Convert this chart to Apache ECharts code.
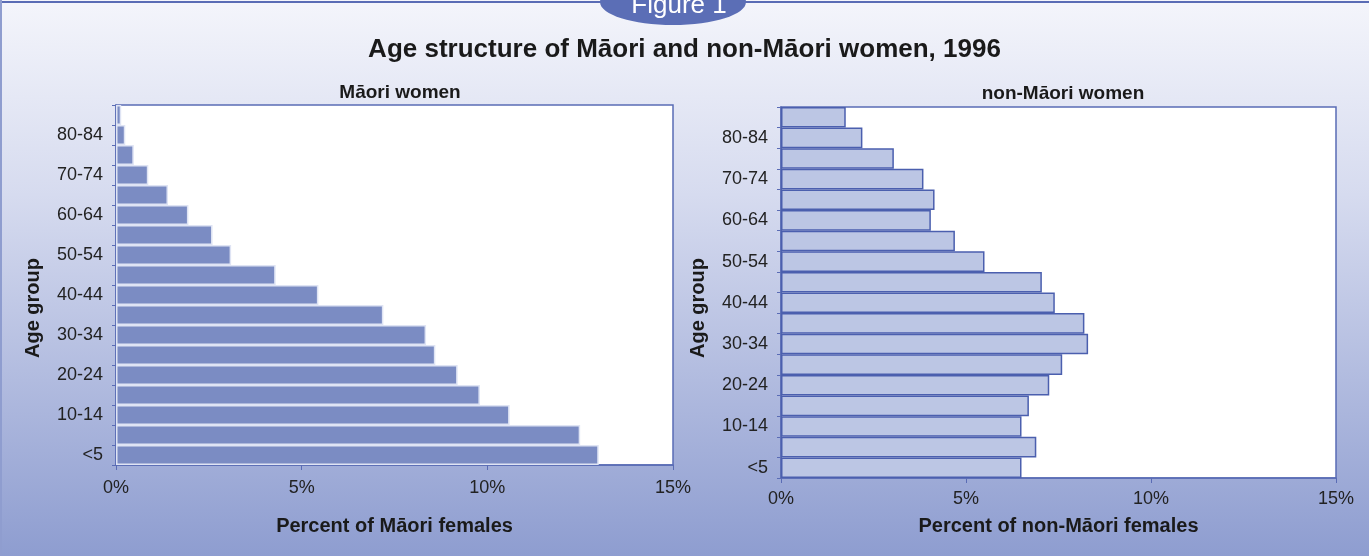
<!DOCTYPE html>
<html>
<head>
<meta charset="utf-8">
<script src="https://cdn.jsdelivr.net/npm/echarts@6/dist/echarts.min.js"></script>
<style>
  html, body { margin: 0; padding: 0; }
  #chart { width: 1369px; height: 556px; }
</style>
</head>
<body>
<div id="chart"></div>
<script>
// age groups, bottom to top
var ageGroups = ['<5', '5-9', '10-14', '15-19', '20-24', '25-29', '30-34', '35-39', '40-44',
  '45-49', '50-54', '55-59', '60-64', '65-69', '70-74', '75-79', '80-84', '85+']
// percent of females in each age group
var maoriPct = [13.0, 12.5, 10.6, 9.8, 9.2, 8.6, 8.35, 7.2, 5.45, 4.3, 3.1, 2.6, 1.95, 1.4, 0.87, 0.48, 0.25, 0.14]
var nonMaoriPct = [6.5, 6.9, 6.5, 6.7, 7.25, 7.6, 8.3, 8.2, 7.4, 7.05, 5.5, 4.7, 4.05, 4.15, 3.85, 3.05, 2.2, 1.75]
var xTicks = [0, 5, 10, 15]

var font = 'Liberation Sans, Arial, sans-serif'
var chart = echarts.init(document.getElementById('chart'))

function yAx(gridIndex) {
  return {
    type: 'category',
    gridIndex: gridIndex,
    data: ageGroups,
    axisLine: { lineStyle: { color: '#5a6cb5', width: 1.5 } },
    axisTick: { show: true, interval: 0, length: 4, lineStyle: { color: '#5a6cb5' } },
    axisLabel: { interval: 1, fontFamily: font, fontSize: 18, color: '#222', margin: 13, padding: [4, 0, 0, 0] }
  }
}

function xAx(gridIndex, title, labelGap, nameGap) {
  return {
    type: 'value',
    gridIndex: gridIndex,
    min: xTicks[0],
    max: xTicks[xTicks.length - 1],
    interval: 5,
    name: title,
    nameLocation: 'middle',
    nameGap: nameGap,
    nameTextStyle: { fontFamily: font, fontSize: 20, fontWeight: 'bold', color: '#1a1a1a' },
    axisLine: { show: true, lineStyle: { color: '#5a6cb5', width: 1.5 } },
    axisTick: { show: true, length: 5, lineStyle: { color: '#5a6cb5' } },
    splitLine: { show: false },
    axisLabel: { formatter: '{value}%', fontFamily: font, fontSize: 18, color: '#222', margin: labelGap }
  }
}

var nameStyle = { fill: '#1a1a1a', font: 'bold 20px ' + font, align: 'center', verticalAlign: 'middle' }

var option = {
  animation: false,
  backgroundColor: {
    type: 'linear', x: 0, y: 0, x2: 0, y2: 1,
    colorStops: [
      { offset: 0, color: '#f4f5fb' },
      { offset: 0.35, color: '#d6dbef' },
      { offset: 1, color: '#8e9dd0' }
    ]
  },
  title: [
    {
      text: 'Age structure of Māori and non-Māori women, 1996',
      left: 'center', top: 32,
      textStyle: { fontFamily: font, fontSize: 26, fontWeight: 'bold', color: '#1a1a1a' }
    },
    {
      text: 'Māori women',
      left: 395, top: 78, textAlign: 'center',
      textStyle: { fontFamily: font, fontSize: 19, fontWeight: 'bold', color: '#1a1a1a' }
    },
    {
      text: 'non-Māori women',
      left: 1058, top: 79, textAlign: 'center',
      textStyle: { fontFamily: font, fontSize: 19, fontWeight: 'bold', color: '#1a1a1a' }
    }
  ],
  graphic: [
    { type: 'line', shape: { x1: 0, y1: 2, x2: 1369, y2: 2 }, style: { stroke: '#5a6cb5', lineWidth: 2 } },
    { type: 'line', shape: { x1: 1, y1: 0, x2: 1, y2: 556 }, style: { stroke: '#8f9dcf', lineWidth: 2 } },
    { type: 'ellipse', shape: { cx: 673, cy: 2, rx: 73, ry: 23 }, style: { fill: '#5b6eb6' } },
    { type: 'text', x: 679, y: 6, style: { text: 'Figure 1', fill: '#ffffff', font: '26px ' + font, align: 'center', verticalAlign: 'middle' } },
    { type: 'text', x: 33, y: 308, rotation: Math.PI / 2, style: Object.assign({ text: 'Age group' }, nameStyle) },
    { type: 'text', x: 698, y: 308, rotation: Math.PI / 2, style: Object.assign({ text: 'Age group' }, nameStyle) }
  ],
  grid: [
    { left: 116, top: 105, width: 557, height: 360, show: true, backgroundColor: '#ffffff', borderColor: '#5a6cb5', borderWidth: 1.5 },
    { left: 781, top: 107, width: 555, height: 371, show: true, backgroundColor: '#ffffff', borderColor: '#5a6cb5', borderWidth: 1.5 }
  ],
  xAxis: [xAx(0, 'Percent of Māori females', 14, 51), xAx(1, 'Percent of non-Māori females', 12, 38)],
  yAxis: [yAx(0), yAx(1)],
  series: [
    {
      type: 'bar', xAxisIndex: 0, yAxisIndex: 0,
      data: maoriPct,
      barCategoryGap: '0%',
      itemStyle: { color: '#7b8cc3', borderColor: '#dfe4f4', borderWidth: 1.5 }
    },
    {
      type: 'bar', xAxisIndex: 1, yAxisIndex: 1,
      data: nonMaoriPct,
      barCategoryGap: '0%',
      itemStyle: { color: '#bcc6e4', borderColor: '#4b5fae', borderWidth: 1.5 }
    }
  ]
}

chart.setOption(option)
window.addEventListener('resize', function () {
  chart.resize()
})
</script>
</body>
</html>
